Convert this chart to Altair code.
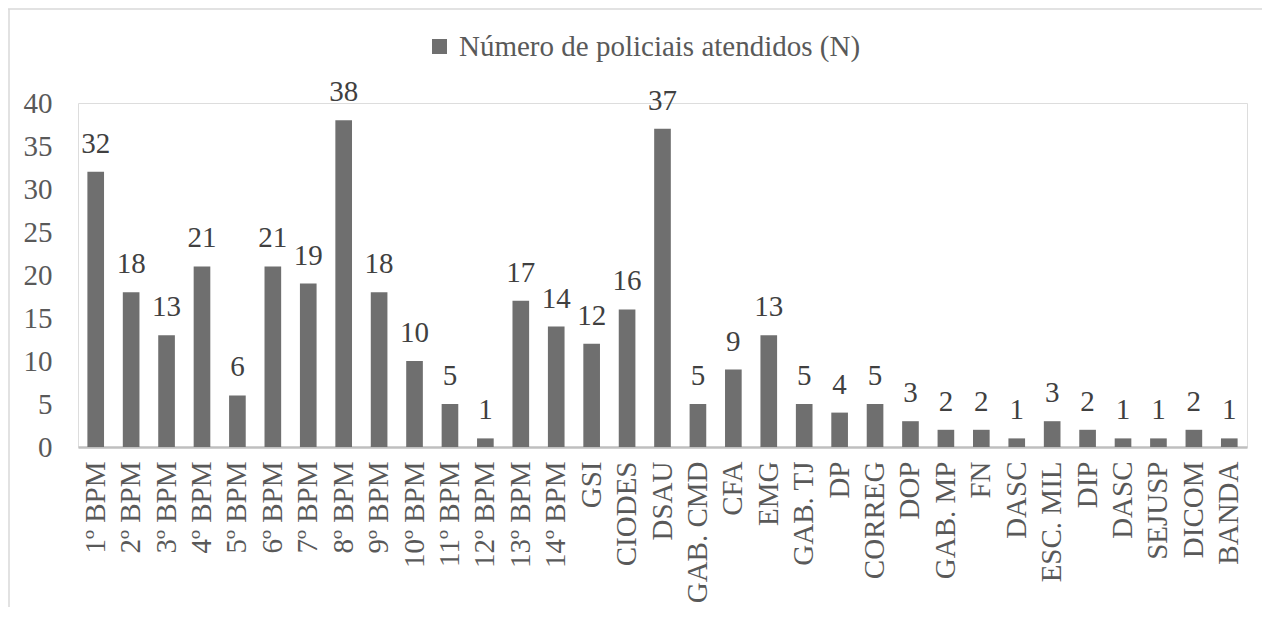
import json
import altair as alt
import pandas as pd

categories = ["1º BPM", "2º BPM", "3º BPM", "4º BPM", "5º BPM", "6º BPM", "7º BPM",
              "8º BPM", "9º BPM", "10º BPM", "11º BPM", "12º BPM", "13º BPM", "14º BPM",
              "GSI", "CIODES", "DSAU", "GAB. CMD", "CFA", "EMG", "GAB. TJ", "DP",
              "CORREG", "DOP", "GAB. MP", "FN", "DASC", "ESC. MIL", "DIP", "DASC",
              "SEJUSP", "DICOM", "BANDA"]
values = [32, 18, 13, 21, 6, 21, 19, 38, 18, 10, 5, 1, 17, 14, 12, 16, 37, 5, 9, 13,
          5, 4, 5, 3, 2, 2, 1, 3, 2, 1, 1, 2, 1]
series_name = "Número de policiais atendidos (N)"

df = pd.DataFrame({
    "idx": list(range(len(categories))),
    "name": categories,
    "value": values,
    "series": [series_name] * len(categories),
})

FONT = "Liberation Serif"
FS = 29
W, H = 1169, 344
label_expr = json.dumps(categories, ensure_ascii=False) + "[datum.value]"

x_enc = alt.X("idx:O", sort=None, title=None,
              scale=alt.Scale(paddingInner=0.53, paddingOuter=0.265),
              axis=alt.Axis(labelExpr=label_expr, labelAngle=-90, labelAlign="right",
                            labelBaseline="middle", labelFont=FONT, labelFontSize=FS,
                            labelColor="#595959", labelPadding=14, ticks=False,
                            domainColor="#bfbfbf", domainWidth=2.5, labelOverlap=False,
                            labelLimit=300))
y_enc = alt.Y("value:Q", title=None,
              scale=alt.Scale(domain=[0, 40], nice=False),
              axis=alt.Axis(values=[0, 5, 10, 15, 20, 25, 30, 35, 40], grid=False,
                            domain=False, ticks=False, labelFont=FONT, labelFontSize=FS,
                            labelColor="#595959", labelPadding=26))

bars = alt.Chart(df).mark_bar().encode(
    x=x_enc,
    y=y_enc,
    color=alt.Color("series:N", scale=alt.Scale(range=["#6f6f6f"]),
                    legend=alt.Legend(title=None, orient="none", legendX=347, legendY=-71,
                                      symbolType="square", symbolSize=225,
                                      symbolStrokeWidth=0, labelFont=FONT,
                                      labelFontSize=FS, labelColor="#595959",
                                      labelLimit=700, symbolOffset=0, labelOffset=5)),
)

text = alt.Chart(df).mark_text(font=FONT, fontSize=FS, color="#404040",
                               baseline="alphabetic", dy=-19).encode(
    x=alt.X("idx:O", sort=None),
    y=alt.Y("value:Q"),
    text=alt.Text("value:Q"),
)

frame_df = pd.DataFrame({"k": [0]})
top_line = alt.Chart(frame_df).mark_rule(color="#d9d9d9", strokeWidth=1.5).encode(
    x=alt.value(-70), x2=alt.value(W + 20), y=alt.value(-94))
left_line = alt.Chart(frame_df).mark_rule(color="#d9d9d9", strokeWidth=1.5).encode(
    x=alt.value(-69), y=alt.value(-94), y2=alt.value(H + 170))

chart = alt.layer(top_line, left_line, bars, text).properties(
    width=W, height=H,
    padding={"left": 70, "top": 95, "right": 15, "bottom": 160},
    autosize=alt.AutoSizeParams(type="none"),
).configure_view(stroke=None).configure(background="white")

chart.save("out.html", embed_options={"renderer": "svg", "actions": False})
